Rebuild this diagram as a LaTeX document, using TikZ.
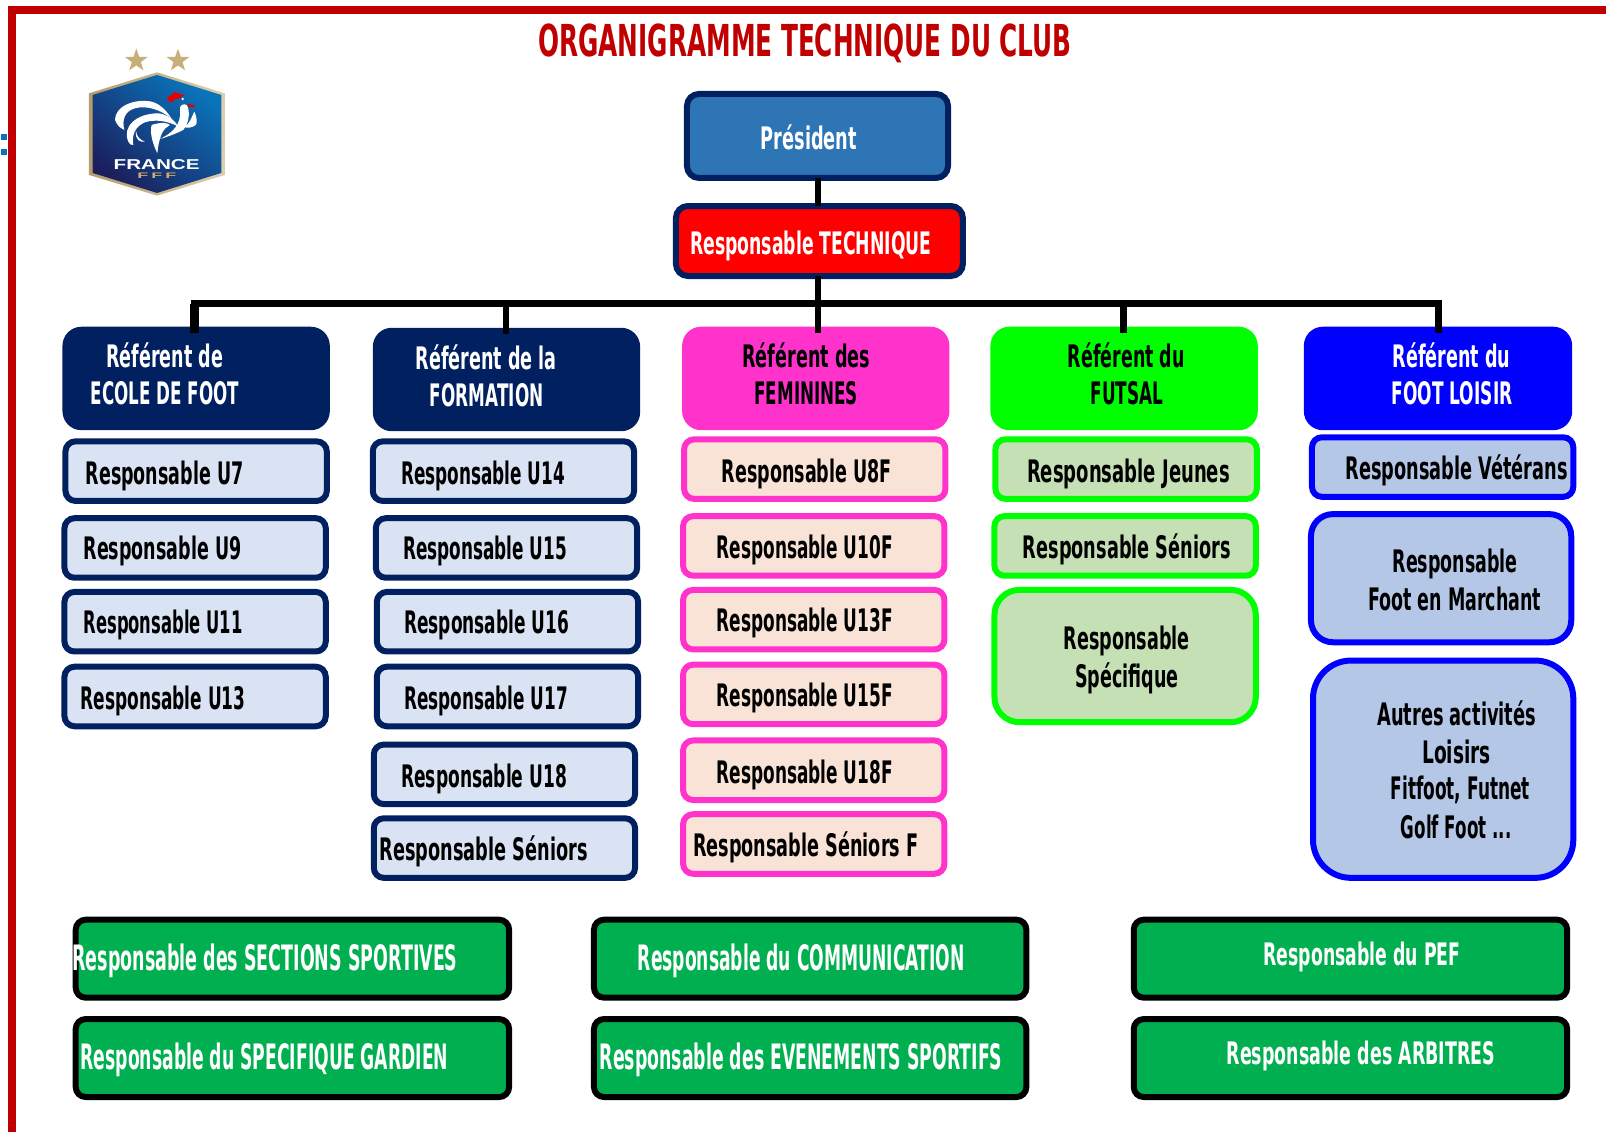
\documentclass[tikz,border=0pt]{standalone}
\usepackage{fontspec}
\usepackage{graphicx}
\setmainfont{DejaVu Sans}
\newfontfamily\logofont{Liberation Sans}
\usetikzlibrary{shapes.geometric}
\definecolor{navy}{HTML}{002060}
\definecolor{presblue}{HTML}{2E75B6}
\definecolor{magentaf}{HTML}{FF33CC}
\definecolor{peach}{HTML}{F9E3D6}
\definecolor{lgreen}{HTML}{C5E0B4}
\definecolor{lblue}{HTML}{B4C7E7}
\definecolor{pale}{HTML}{DAE3F3}
\definecolor{sgreen}{HTML}{00B050}
\definecolor{title}{HTML}{C00000}
\definecolor{gold}{HTML}{C8AE78}
\definecolor{logodark}{HTML}{1B1F5E}
\definecolor{logomid}{HTML}{232A72}
\definecolor{logolight}{HTML}{0A74BA}
\definecolor{dotblue}{HTML}{0A70C0}
\tikzset{
 x=1.0242pt,y=-1.0242pt,
 base/.style={rectangle,inner sep=0pt,outer sep=0pt,line width=6pt,rounded corners=10pt},
 small/.style={base,draw=navy,fill=pale},
 smallf/.style={base,draw=magentaf,fill=peach},
 smallg/.style={base,draw=green,fill=lgreen},
 smallb/.style={base,draw=blue,fill=lblue},
 hdr/.style={base,rounded corners=16pt},
 bottombox/.style={base,draw=black,fill=sgreen},
 txt/.style={inner sep=0pt,outer sep=0pt,font=\fontsize{31}{31}\selectfont\bfseries,text=black},
 wtxt/.style={txt,text=white},
 btxt/.style={txt,text=white,font=\fontsize{35}{35}\selectfont\bfseries},
 conn/.style={draw=black,line width=6.5pt},
 stari/.style={star,star points=5,star point ratio=2.5,fill=gold,draw=none,minimum size=24pt,inner sep=0pt},
}
\newcommand\bx[6]{\node[#1,minimum width={(#5-#3)*1.0242pt-6pt},minimum height={(#6-#4)*1.0242pt-6pt}] (#2) at ({(#3+#5)/2},{(#4+#6)/2}) {};}
\newcommand\tx[6][txt]{\pgfmathsetlengthmacro\tw{(#4-#3)*1.0242pt}\node[#1,anchor=base] (#2) at ({(#3+#4)/2+0.7},{#5+11.6}) {\resizebox{\tw}{\height}{#6}};}
\begin{document}
\begin{tikzpicture}
\useasboundingbox (0,0) rectangle (1568,1105.27);
% frame
\fill[title] (7.8,5.9) rectangle (1568,13.7);
\fill[title] (7.8,5.9) rectangle (15.6,1105.27);
\fill[dotblue] (1,131) rectangle (6.8,136.5);
\fill[dotblue] (1,145.5) rectangle (6.8,151);
% title
\node[txt,anchor=base,text=title,font=\fontsize{44}{44}\selectfont\bfseries] (ttl) at (786,54.8) {\resizebox{533.6pt}{\height}{ORGANIGRAMME TECHNIQUE DU CLUB}};
% logo
\begin{scope}[shift={(78.1,43.9)},x=0.3333pt,y=-0.3333pt]
\node[stari] (s1) at (169,47) {};
\node[stari] (s2) at (294,47) {};
\path[shade,left color=gold!90!black,right color=gold!60!white] (231,82)--(435,145)--(435,390)--(231,452)--(27,390)--(27,145)--cycle;
\path[shade,bottom color=logodark,middle color=logomid,top color=logolight,shading angle=-40] (231,90)--(424,150)--(424,384)--(231,444)--(38,384)--(38,150)--cycle;
\fill[white] (105,225) .. controls (105,185) and (160,160) .. (215,170) .. controls (245,178) and (265,205) .. (275,222) .. controls (245,195) and (200,180) .. (165,190) .. controls (135,198) and (125,225) .. (133,255) .. controls (115,245) .. (105,225) -- cycle;
\fill[white] (145,290) .. controls (125,245) and (170,205) .. (235,205) .. controls (265,208) and (285,228) .. (295,245) .. controls (265,228) and (225,222) .. (195,232) .. controls (165,245) and (155,270) .. (160,300) .. controls (152,300) .. (145,290) -- cycle;
\fill[white] (215,240) .. controls (240,232) and (262,232) .. (270,240) .. controls (250,250) and (238,270) .. (232,325) .. controls (220,300) and (208,265) .. (215,240) -- cycle;
\fill[white] (168,258) .. controls (170,275) and (180,285) .. (195,290) .. controls (180,293) and (165,285) .. (168,258) -- cycle;
\fill[white] (240,282) .. controls (275,265) and (305,240) .. (300,195) .. controls (298,180) and (310,175) .. (320,180) .. controls (330,195) and (330,230) .. (310,255) .. controls (290,265) and (265,275) .. (240,282) -- cycle;
\fill[white] (310,245) .. controls (330,240) and (335,215) .. (343,200) .. controls (352,220) and (352,235) .. (347,240) .. controls (335,250) and (320,250) .. (310,245) -- cycle;
\fill[red!90!black] (262,157) -- (275,150) -- (282,142) -- (295,145) -- (312,150) -- (300,160) -- (285,163) -- (275,172) -- (265,168) -- cycle;
\fill[red!90!black] (322,177) -- (345,181) -- (340,188) -- (326,186) -- cycle;
\fill[white] (308,162) circle (4);
\node[inner sep=0pt,text=white,anchor=base,font=\logofont\bfseries\fontsize{12}{12}\selectfont] (fr) at (230,373) {\resizebox{86pt}{10pt}{FRANCE}};
\node[inner sep=0pt,text=gold!90!orange,anchor=base,font=\logofont\bfseries\fontsize{8}{8}\selectfont] (ff) at (231,402) {\resizebox{39pt}{5.5pt}{F\,F\,F}};
\end{scope}
% top boxes
\bx{base,draw=navy,fill=presblue,rounded corners=12pt}{pres}{667.8}{88.8}{928.5}{176.7}
\bx{base,draw=navy,fill=red,rounded corners=12pt}{tech}{657}{198.2}{943}{272.4}
% referents
\bx{hdr,draw=navy,fill=navy}{h1}{61}{319}{322}{420}
\bx{hdr,draw=navy,fill=navy}{h2}{364}{320}{625}{421}
\bx{hdr,draw=magentaf,fill=magentaf}{h3}{666}{319}{927}{420}
\bx{hdr,draw=green,fill=green}{h4}{967}{319}{1228}{420}
\bx{hdr,draw=blue,fill=blue}{h5}{1273}{319}{1535}{420}
% connectors
\coordinate (stem) at (798.7,296.5);
\coordinate (bus1) at (190,296.5);
\coordinate (bus2) at (494,296.5);
\coordinate (bus4) at (1097,296.5);
\coordinate (bus5) at (1404.5,296.5);
\draw[conn] (stem |- pres.south) -- (stem |- tech.north);
\draw[conn,shorten >=-3pt] (stem |- tech.south) -- (stem |- h3.north);
\draw[conn,line cap=rect] (bus1) -- (bus5);
\draw[conn,line width=8.5pt,shorten >=-3pt] (bus1) -- (bus1 |- h1.north);
\draw[conn,shorten >=-3pt] (bus2) -- (bus2 |- h2.north);
\draw[conn,shorten >=-3pt] (bus4) -- (bus4 |- h4.north);
\draw[conn,shorten >=-3pt] (bus5) -- (bus5 |- h5.north);
% col 1
\bx{small}{u7}{61}{428}{322}{492}
\bx{small}{u9}{60}{503}{321}{567}
\bx{small}{u11}{60}{575}{321}{639}
\bx{small}{u13}{60}{648}{321}{712}
% col 2
\bx{small}{u14}{361}{428}{622}{492}
\bx{small}{u15}{364}{503}{625}{567}
\bx{small}{u16}{365}{575}{626}{639}
\bx{small}{u17}{365}{648}{626}{712}
\bx{small}{u18}{362}{724}{623}{788}
\bx{small}{usr}{362}{796}{623}{860}
% col 3
\bx{smallf}{f8}{665}{426}{926}{490}
\bx{smallf}{f10}{664}{501}{925}{565}
\bx{smallf}{f13}{664}{573}{925}{637}
\bx{smallf}{f15}{664}{646}{925}{710}
\bx{smallf}{f18}{664}{720}{925}{784}
\bx{smallf}{fsr}{664}{792}{925}{856}
% col 4
\bx{smallg}{gj}{969}{426}{1230}{490}
\bx{smallg}{gs}{968}{501}{1229}{565}
\bx{smallg,rounded corners=25pt}{gsp}{968}{573}{1229}{708}
% col 5
\bx{smallb}{bv}{1278}{424}{1539}{488}
\bx{smallb,rounded corners=22pt}{bm}{1277}{499}{1537}{630}
\bx{smallb,rounded corners=38pt}{ba}{1279}{642}{1539}{860}
% bottom
\bx{bottombox}{z1}{71}{895}{500}{977}
\bx{bottombox}{z2}{71}{992}{500}{1074}
\bx{bottombox}{z3}{577}{895}{1005}{977}
\bx{bottombox}{z4}{577}{992}{1005}{1074}
\bx{bottombox}{z5}{1104}{895}{1533}{977}
\bx{bottombox}{z6}{1104}{992}{1533}{1074}
% texts
\tx[wtxt]{tpres}{742}{836}{134}{Président}
\tx[wtxt]{ttech}{673}{909}{237}{Responsable TECHNIQUE}
\tx[wtxt]{th1a}{103}{217}{347}{Référent de}
\tx[wtxt]{th1b}{88}{233}{383}{ECOLE DE FOOT}
\tx[wtxt]{th2a}{405}{543}{349}{Référent de la}
\tx[wtxt]{th2b}{419}{530}{385}{FORMATION}
\tx{th3a}{724}{849}{347}{Référent des}
\tx{th3b}{736}{837}{383}{FEMININES}
\tx{th4a}{1042}{1156}{347}{Référent du}
\tx{th4b}{1064}{1135}{383}{FUTSAL}
\tx[wtxt]{th5a}{1359}{1474}{347}{Référent du}
\tx[wtxt]{th5b}{1358}{1476}{383}{FOOT LOISIR}
\tx{tu7}{83}{237}{461}{Responsable U7}
\tx{tu9}{81}{235}{535}{Responsable U9}
\tx{tu11}{81}{236}{607}{Responsable U11}
\tx{tu13}{78}{239}{681}{Responsable U13}
\tx{tu14}{391}{551}{461}{Responsable U14}
\tx{tu15}{393}{553}{535}{Responsable U15}
\tx{tu16}{394}{555}{607}{Responsable U16}
\tx{tu17}{394}{554}{681}{Responsable U17}
\tx{tu18}{391}{553}{757}{Responsable U18}
\tx{tusr}{370}{573}{829}{Responsable Séniors}
\tx{tf8}{704}{870}{459}{Responsable U8F}
\tx{tf10}{699}{871}{534}{Responsable U10F}
\tx{tf13}{699}{871}{605}{Responsable U13F}
\tx{tf15}{699}{871}{678}{Responsable U15F}
\tx{tf18}{699}{871}{753}{Responsable U18F}
\tx{tfsr}{676}{896}{825}{Responsable Séniors F}
\tx{tgj}{1002}{1200}{459}{Responsable Jeunes}
\tx{tgs}{998}{1201}{534}{Responsable Séniors}
\tx{tgp1}{1038}{1161}{623}{Responsable}
\tx{tgp2}{1049}{1150}{660}{Spécifique}
\tx{tbv}{1313}{1530}{457}{Responsable Vétérans}
\tx{tbm1}{1359}{1481}{547}{Responsable}
\tx{tbm2}{1335}{1504}{584}{Foot en Marchant}
\tx{tba1}{1344}{1499}{697}{Autres activités}
\tx{tba2}{1388}{1455}{734}{Loisirs}
\tx{tba3}{1357}{1493}{769}{Fitfoot, Futnet}
\tx{tba4}{1367}{1475}{807}{Golf Foot ...}
\tx[btxt]{tz1}{70}{446}{936}{Responsable des SECTIONS SPORTIVES}
\tx[btxt]{tz3}{622}{941}{936}{Responsable du COMMUNICATION}
\tx[wtxt]{tz5}{1233}{1425}{931}{Responsable du PEF}
\tx[btxt]{tz2}{78}{437}{1033}{Responsable du SPECIFIQUE GARDIEN}
\tx[btxt]{tz4}{585}{978}{1033}{Responsable des EVENEMENTS SPORTIFS}
\tx[wtxt]{tz6}{1197}{1459}{1028}{Responsable des ARBITRES}
\end{tikzpicture}
\end{document}
